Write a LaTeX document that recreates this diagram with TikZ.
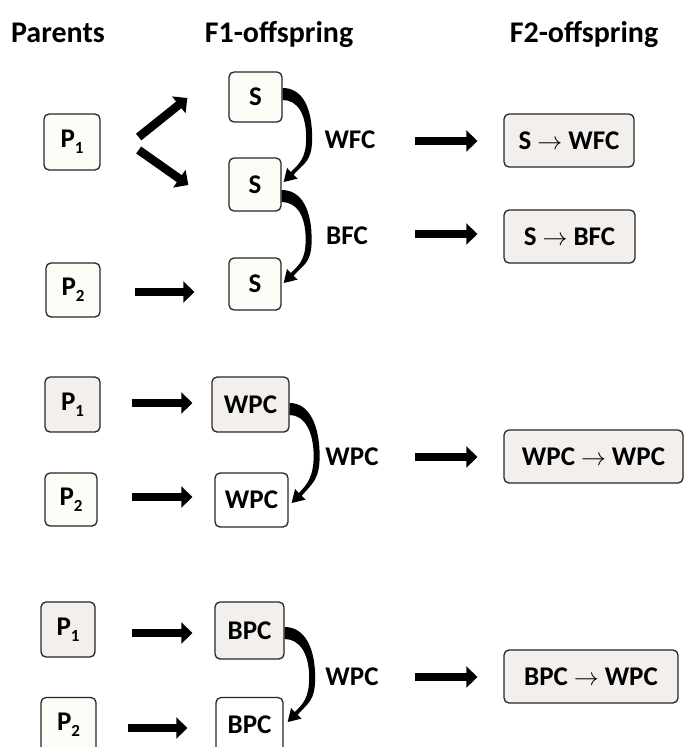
\documentclass[tikz,border=0pt]{standalone}
\usepackage{fontspec}
\setmainfont{Carlito}
\usetikzlibrary{arrows.meta,calc}

\definecolor{boxgray}{HTML}{F2EFEC}
\definecolor{boxivory}{HTML}{FDFCF6}
\definecolor{edge}{HTML}{262626}

% parent labels with a lowered index
\newcommand\parent[1]{P\raisebox{-0.45ex}{\fontsize{17}{17}\selectfont #1}}
\newcommand\yields{\hspace{6pt}$\rightarrow$\hspace{6pt}}

% tapered curved arrow between the right sides of two stacked boxes
% #1 upper node, #2 lower node, #3 start shift (y), #4 tip shift (x,y)
\newcommand\bendarrow[4]{%
  \coordinate (ba) at ($(#1.east)+(0,#3)$);
  \coordinate (bb) at ($(#2.east)+(#4)$);
  \coordinate (bm) at ($(ba)!.5!(bb)$);
  \fill[black]
    ($(ba)+(0,-6)$) .. controls ($(ba)+(21,-6)$) and ($(bm)+(29,-28)$) .. ($(bm)+(29,0)$)
    .. controls ($(bm)+(29,24)$) and ($(bb)+(20,-19)$) .. ($(bb)+(10,-7.2)$)
    -- ($(bb)+(14,-3.4)$) -- (bb) -- ($(bb)+(3.4,-14)$) -- ($(bb)+(7.2,-10)$)
    .. controls ($(bb)+(15,-18)$) and ($(bm)+(23,21)$) .. ($(bm)+(23,0)$)
    .. controls ($(bm)+(23,-24)$) and ($(ba)+(15,6)$) .. ($(ba)+(0,6)$) -- cycle;
}

\begin{document}
\begin{tikzpicture}[x=1pt,y=-1pt,
  font=\bfseries\fontsize{27}{30}\selectfont,
  box/.style={draw=edge, line width=1.3pt, rounded corners=5pt, inner sep=0pt},
  gbox/.style={box, fill=boxgray},
  ibox/.style={box, fill=boxivory},
  wbox/.style={box, fill=white},
  fat/.style={line width=8.5pt, -{Triangle[length=11pt,width=21pt]}},
  head/.style={anchor=base, font=\bfseries\fontsize{30}{32}\selectfont},
  cross/.style={anchor=center}]

\useasboundingbox (0,0) rectangle (684,747);
\clip (0,0) rectangle (684,747);

% column headings
\node[head] (hP)  at (58,42)  {Parents};
\node[head] (hF1) at (279,42) {F1-offspring};
\node[head] (hF2) at (584,42) {F2-offspring};

% ---- first cross: S x S
\node[ibox, minimum width=56pt, minimum height=56pt] (P1a) at (72,142)   {\parent{1}};
\node[ibox, minimum width=54pt, minimum height=54pt] (P2a) at (73,290)   {\parent{2}};
\node[ibox, minimum width=53pt, minimum height=50pt] (S1)  at (255.5,97) {S};
\node[ibox, minimum width=52pt, minimum height=53pt] (S2)  at (255,184.5){S};
\node[ibox, minimum width=52pt, minimum height=52pt] (S3)  at (255,284)  {S};
\node[cross] (cWFC) at (350,140) {WFC};
\node[cross] (cBFC) at (347,236) {BFC};
\node[gbox, minimum width=130pt, minimum height=53pt] (F2a) at (569,140.5) {S\yields WFC};
\node[gbox, minimum width=131pt, minimum height=53pt] (F2b) at (569.5,236.5) {S\yields BFC};

\draw[fat] ($(P1a.east)+(38,-5)$) -- ($(S1.west)+(-41,1)$);
\draw[fat] ($(P1a.east)+(38,8)$)  -- ($(S2.west)+(-40,0.5)$);
\draw[fat] ($(P2a.east)+(34,2)$)  -- ($(S3.west)+(-34,8)$);
\bendarrow{S1}{S2}{-3}{2,-2.5}
\bendarrow{S2}{S3}{11.5}{2,-1}
\draw[fat] ($(F2a.west)+(-88,0.5)$)  -- ($(F2a.west)+(-26,0.5)$);
\draw[fat] ($(F2b.west)+(-88,-2.5)$) -- ($(F2b.west)+(-26,-2.5)$);

% ---- second cross: WPC x WPC
\node[gbox, minimum width=55pt, minimum height=55pt] (P1b) at (72.5,404.5) {\parent{1}};
\node[ibox, minimum width=52pt, minimum height=53pt] (P2b) at (71,499.5)   {\parent{2}};
\node[gbox, minimum width=77pt, minimum height=55pt] (W1)  at (250.5,404.5) {WPC};
\node[wbox, minimum width=73pt, minimum height=54pt] (W2)  at (251.5,500)   {WPC};
\node[cross] (cW) at (352,457) {WPC};
\node[gbox, minimum width=179pt, minimum height=53pt] (F2c) at (593.5,456.5) {WPC\yields WPC};

\draw[fat] ($(P1b.east)+(31,-1.5)$) -- ($(W1.west)+(-19,-1.5)$);
\draw[fat] ($(P2b.east)+(34,-2.5)$) -- ($(W2.west)+(-22,-3)$);
\bendarrow{W1}{W2}{4.5}{3,3}
\draw[fat] ($(F2c.west)+(-88,0.5)$) -- ($(F2c.west)+(-26,0.5)$);

% ---- third cross: BPC x WPC
\node[gbox, minimum width=54pt, minimum height=55pt] (P1c) at (68,629.5)  {\parent{1}};
\node[ibox, minimum width=55pt, minimum height=55pt] (P2c) at (68.5,725)  {\parent{2}};
\node[gbox, minimum width=69pt, minimum height=57pt] (B1)  at (249.5,630.5) {BPC};
\node[wbox, minimum width=67pt, minimum height=55pt] (B2)  at (249.5,725)  {BPC};
\node[cross] (cB) at (352,677) {WPC};
\node[gbox, minimum width=174pt, minimum height=53pt] (F2d) at (591,676.5) {BPC\yields WPC};

\draw[fat] ($(P1c.east)+(36,3.5)$) -- ($(B1.west)+(-22,2.5)$);
\draw[fat] ($(P2c.east)+(31,3)$)   -- ($(B2.west)+(-28,3)$);
\bendarrow{B1}{B2}{2.5}{4,-3}
\draw[fat] ($(F2d.west)+(-88,0.5)$) -- ($(F2d.west)+(-26,0.5)$);

\end{tikzpicture}
\end{document}
